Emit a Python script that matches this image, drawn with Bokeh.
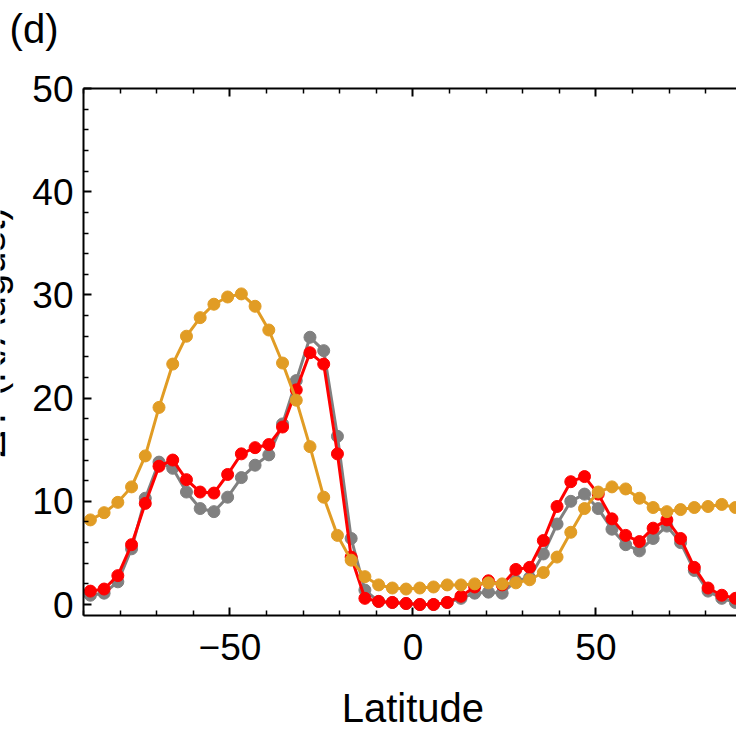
import math
from bokeh.plotting import figure
from bokeh.models import Range1d, LinearAxis, FixedTicker, Label, CustomJSTickFormatter
from bokeh.embed import file_html
from bokeh.resources import INLINE

# Latitude grid (bin centres, degrees)
lat = [-88.125, -84.375, -80.625, -76.875, -73.125, -69.375, -65.625, -61.875,
       -58.125, -54.375, -50.625, -46.875, -43.125, -39.375, -35.625, -31.875,
       -28.125, -24.375, -20.625, -16.875, -13.125, -9.375, -5.625, -1.875,
       1.875, 5.625, 9.375, 13.125, 16.875, 20.625, 24.375, 28.125,
       31.875, 35.625, 39.375, 43.125, 46.875, 50.625, 54.375, 58.125,
       61.875, 65.625, 69.375, 73.125, 76.875, 80.625, 84.375, 88.125]

gold = [8.2, 8.9, 9.9, 11.4, 14.4, 19.1, 23.3, 26.0,
        27.8, 29.1, 29.8, 30.1, 28.9, 26.6, 23.4, 19.8,
        15.3, 10.4, 6.7, 4.3, 2.7, 1.9, 1.6, 1.5,
        1.6, 1.7, 1.9, 1.9, 2.0, 2.1, 2.0, 2.1,
        2.4, 3.1, 4.6, 7.0, 9.3, 10.9, 11.4, 11.2,
        10.3, 9.4, 9.0, 9.2, 9.4, 9.5, 9.7, 9.4]

gray = [0.9, 1.1, 2.2, 5.4, 10.3, 13.8, 13.2, 10.9,
        9.3, 9.0, 10.4, 12.3, 13.5, 14.5, 17.5, 21.7,
        25.9, 24.6, 16.3, 6.4, 1.4, 0.3, 0.2, 0.1,
        0.0, 0.0, 0.2, 0.6, 1.1, 1.2, 1.1, 2.3,
        2.6, 4.9, 7.8, 10.0, 10.7, 9.3, 7.3, 5.8,
        5.2, 6.4, 7.6, 6.0, 3.3, 1.3, 0.6, 0.2]

red = [1.3, 1.5, 2.8, 5.8, 9.8, 13.4, 14.0, 12.1,
       10.9, 10.8, 12.6, 14.6, 15.2, 15.5, 17.2, 20.8,
       24.4, 23.3, 14.6, 4.6, 0.6, 0.3, 0.2, 0.1,
       0.0, 0.0, 0.2, 0.8, 1.7, 2.3, 1.9, 3.4,
       3.6, 6.2, 9.5, 11.9, 12.4, 10.7, 8.3, 6.7,
       6.1, 7.4, 8.2, 6.4, 3.6, 1.6, 0.9, 0.6]

y_major = [0, 10, 20, 30, 40, 50]
y_minor = [2, 4, 6, 8, 12, 14, 16, 18, 22, 24, 26, 28, 32, 34, 36, 38, 42, 44, 46, 48]
x_major = [-50, 0, 50]
x_minor = [-90, -80, -70, -60, -40, -30, -20, -10, 10, 20, 30, 40, 60, 70, 80, 90]

X_LO, X_HI = -90, 90
Y_LO, Y_HI = -1.07, 50

FONT = "Liberation Sans"

# The data frame fills the whole canvas; the frame axes sit at fixed positions
p = figure(width=736, height=729,
           x_range=Range1d(-112.68, 88.4), y_range=Range1d(-12.11, 58.53),
           output_backend="svg", toolbar_location=None,
           min_border_left=0, min_border_right=0,
           min_border_top=0, min_border_bottom=0,
           x_axis_location=None, y_axis_location=None)
p.outline_line_color = None
p.xgrid.grid_line_color = None
p.ygrid.grid_line_color = None
p.background_fill_color = "white"
p.border_fill_color = "white"

left_axis = LinearAxis(fixed_location=X_LO, bounds=(Y_LO, Y_HI))
bottom_axis = LinearAxis(fixed_location=Y_LO, bounds=(X_LO, X_HI))
top_axis = LinearAxis(fixed_location=Y_HI, bounds=(X_LO, X_HI))
p.add_layout(left_axis, "left")
p.add_layout(bottom_axis, "below")
p.add_layout(top_axis, "above")

def style_axis(ax, major, minor):
    ax.ticker = FixedTicker(ticks=major, minor_ticks=minor)
    ax.axis_line_width = 2
    ax.axis_line_color = "black"
    ax.major_tick_in = 8
    ax.major_tick_out = 0
    ax.minor_tick_in = 5
    ax.minor_tick_out = 0
    ax.major_tick_line_width = 2
    ax.minor_tick_line_width = 1.5
    ax.major_tick_line_color = "black"
    ax.minor_tick_line_color = "black"
    ax.major_label_text_font = FONT
    ax.major_label_text_font_size = "37px"
    ax.major_label_text_color = "black"

style_axis(left_axis, y_major, y_minor)
left_axis.major_label_standoff = 10
style_axis(bottom_axis, x_major, x_minor)
bottom_axis.major_label_standoff = 18
bottom_axis.formatter = CustomJSTickFormatter(
    code="return tick < 0 ? '\u2212' + Math.abs(tick) : String(tick);")
style_axis(top_axis, x_major, x_minor)
top_axis.formatter = CustomJSTickFormatter(code="return '';")

for vals, col in [(gray, "#808080"), (red, "#FF0000"), (gold, "#E19C24")]:
    p.line(lat, vals, line_color=col, line_width=3)
    p.scatter(lat, vals, size=12, fill_color=col, line_color=col)

p.add_layout(Label(x=0, y=-9.98, text="Latitude", text_font=FONT,
                   text_font_size="40px", text_align="center",
                   text_baseline="alphabetic", text_color="black"))
p.add_layout(Label(x=-110.2, y=55.8, text="(d)", text_font=FONT,
                   text_font_size="40px", text_align="left",
                   text_baseline="alphabetic", text_color="black"))
p.add_layout(Label(x=-115.4, y=14.24, text="\u0394T (K/August)", text_font=FONT,
                   text_font_size="40px", text_align="left", angle=math.pi / 2,
                   text_baseline="alphabetic", text_color="black"))

open("out.html", "w").write(file_html(p, INLINE))
